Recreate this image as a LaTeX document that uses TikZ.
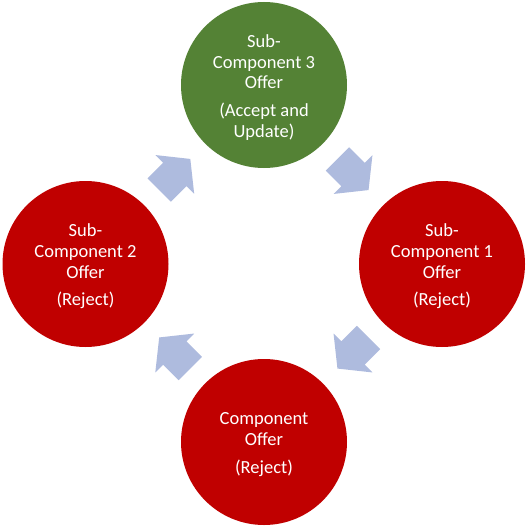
\documentclass[tikz,border=0pt]{standalone}
\usepackage{fontspec}
\setmainfont{Carlito}
\usetikzlibrary{calc}
\definecolor{greenc}{HTML}{548235}
\definecolor{redc}{HTML}{C00000}
\definecolor{arrowc}{HTML}{AEBBDE}
\tikzset{
  stage/.style={circle, minimum size=166pt, inner sep=0pt, text=white, align=center,
    font=\fontsize{18.5}{20.7}\selectfont},
  stagetext/.style={label={[text=white, align=center, inner sep=0pt, yshift=-2.5pt,
    font=\fontsize{18.5}{20.7}\selectfont]center:#1}},
  cyclearrow/.style={fill=arrowc, draw=none}
}
\newcommand\cycarrow[2]{%
  \fill[cyclearrow, shift={(#1)}, rotate=#2]
    (-22,-16.5) -- (0,-16.5) -- (0,-27.5) -- (22,0) -- (0,27.5) -- (0,16.5) -- (-22,16.5) -- cycle;}
\begin{document}
\begin{tikzpicture}[x=1pt,y=-1pt]
\useasboundingbox (0,0) rectangle (527,527);
\node[stage, fill=greenc, stagetext={Sub-\\Component 3\\Offer\\[7pt](Accept and\\Update)}] (s3) at (264,85) {};
\node[stage, fill=redc, stagetext={Sub-\\Component 1\\Offer\\[7pt](Reject)}] (s1) at (442,264) {};
\node[stage, fill=redc, stagetext={Component\\Offer\\[7pt](Reject)}] (c) at (264,442) {};
\node[stage, fill=redc, stagetext={Sub-\\Component 2\\Offer\\[7pt](Reject)}] (s2) at (85.5,264) {};
\coordinate (m1) at ($(s2.center)!0.5!(s3.center)$);
\coordinate (m2) at ($(s3.center)!0.5!(s1.center)$);
\coordinate (m3) at ($(s1.center)!0.5!(c.center)$);
\coordinate (m4) at ($(c.center)!0.5!(s2.center)$);
\cycarrow{m1}{45}
\cycarrow{m2}{-45}
\cycarrow{m3}{-135}
\cycarrow{m4}{135}
\end{tikzpicture}
\end{document}
